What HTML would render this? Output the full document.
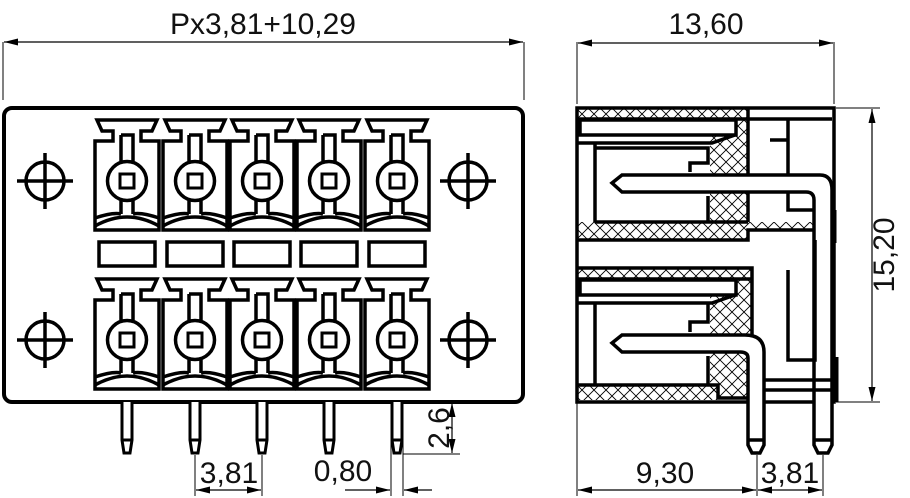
<!DOCTYPE html>
<html><head><meta charset="utf-8"><style>
html,body{margin:0;padding:0;background:#fff;}
svg{display:block;}
text{font-family:"Liberation Sans",Arial,sans-serif;fill:#111;}
</style></head><body>
<svg width="910" height="498" viewBox="0 0 910 498" xmlns="http://www.w3.org/2000/svg">
<defs>
<pattern id="h" width="12" height="12" patternUnits="userSpaceOnUse">
<path d="M0,0L12,12M12,0L0,12" stroke="#000" stroke-width="0.9"/>
</pattern>
<marker id="a" viewBox="0 0 14 7" refX="14" refY="3.5" markerWidth="14" markerHeight="7" orient="auto-start-reverse" markerUnits="userSpaceOnUse">
<path d="M0,0L14,3.5L0,7z" fill="#000"/>
</marker>
<g id="m" fill="none" stroke="#000" stroke-width="3.5">
<path d="M-30,0H30L25,11H14V21H32V110H-32V21H-14V11H-25Z" fill="#fff"/>
<path d="M-6,15H6V42M-6,15V42"/>
<circle cx="0" cy="61" r="19.5"/>
<rect x="-7" y="54" width="14" height="14" stroke-width="3"/>
<path d="M-6,80V94M6,80V94"/>
<path d="M-32,98Q-14,92 -6,94M6,94Q14,92 32,98"/>
<path d="M-32,106Q0,88 32,106"/>
</g>
<g id="hole" fill="none" stroke="#000" stroke-width="3.5">
<circle r="19"/><path d="M-28,0H28M0,-28V28"/>
</g>
<g id="pin" fill="#fff" stroke="#000" stroke-width="3">
<path d="M-5,402V440L-3,453H3L5,440V402"/><path d="M-5,440H5"/>
</g>
</defs>

<!-- LEFT VIEW -->
<path d="M3,42V100M524,42V100" stroke="#000" stroke-width="1"/>
<line x1="4" y1="42" x2="523" y2="42" stroke="#000" stroke-width="1.2" marker-start="url(#a)" marker-end="url(#a)"/>
<text x="263" y="34" font-size="30" text-anchor="middle">Px3,81+10,29</text>
<rect x="4" y="108" width="519" height="294" rx="8" fill="none" stroke="#000" stroke-width="4"/>
<use href="#hole" x="45" y="181"/><use href="#hole" x="468" y="181"/>
<use href="#hole" x="45" y="340"/><use href="#hole" x="468" y="340"/>
<use href="#m" x="127" y="120"/><use href="#m" x="195" y="120"/><use href="#m" x="262" y="120"/><use href="#m" x="329" y="120"/><use href="#m" x="397" y="120"/>
<use href="#m" x="127" y="279"/><use href="#m" x="195" y="279"/><use href="#m" x="262" y="279"/><use href="#m" x="329" y="279"/><use href="#m" x="397" y="279"/>
<g fill="none" stroke="#000" stroke-width="3.5">
<rect x="99" y="242" width="56" height="24"/><rect x="167" y="242" width="56" height="24"/><rect x="234" y="242" width="56" height="24"/><rect x="301" y="242" width="56" height="24"/><rect x="369" y="242" width="56" height="24"/>
</g>
<use href="#pin" x="127"/><use href="#pin" x="195"/><use href="#pin" x="262"/><use href="#pin" x="329"/><use href="#pin" x="397"/>
<!-- dims -->
<path d="M195,455V496M262,455V496M391,440V496M403,440V496M403,454H460M412,402H460" stroke="#000" stroke-width="1"/>
<line x1="196" y1="490" x2="261" y2="490" stroke="#000" stroke-width="1.2" marker-start="url(#a)" marker-end="url(#a)"/>
<text x="229" y="483" font-size="30" text-anchor="middle">3,81</text>
<line x1="345" y1="490" x2="390" y2="490" stroke="#000" stroke-width="1.2" marker-end="url(#a)"/>
<line x1="432" y1="490" x2="404" y2="490" stroke="#000" stroke-width="1.2" marker-end="url(#a)"/>
<text x="343" y="481" font-size="30" text-anchor="middle">0,80</text>
<line x1="452" y1="403" x2="452" y2="453" stroke="#000" stroke-width="1.2" marker-start="url(#a)" marker-end="url(#a)"/>
<text transform="translate(449,428) rotate(-90)" font-size="30" text-anchor="middle">2,6</text>

<!-- RIGHT VIEW -->
<path d="M577,42V104M834,42V104" stroke="#000" stroke-width="1"/>
<line x1="578" y1="43" x2="833" y2="43" stroke="#000" stroke-width="1.2" marker-start="url(#a)" marker-end="url(#a)"/>
<text x="706" y="34" font-size="30" text-anchor="middle">13,60</text>
<path d="M836,108H880M836,402H880" stroke="#000" stroke-width="1"/>
<line x1="872" y1="109" x2="872" y2="401" stroke="#000" stroke-width="1.2" marker-start="url(#a)" marker-end="url(#a)"/>
<text transform="translate(894,255) rotate(-90)" font-size="30" text-anchor="middle">15,20</text>

<g fill="url(#h)" stroke="none">
<rect x="577" y="108" width="171" height="11"/>
<rect x="710" y="119" width="38" height="103"/>
<rect x="577" y="222" width="171" height="18"/>
<rect x="748" y="222" width="66" height="8"/>
<rect x="577" y="268" width="175" height="11"/>
<rect x="710" y="279" width="42" height="120"/>
<rect x="577" y="385" width="140" height="15"/>
</g>
<g fill="none" stroke="#000" stroke-width="3.5">
<path d="M577,108H834V402H577Z"/>
<path d="M577,119H748M748,108V222"/>
<rect x="580" y="120" width="156" height="15" fill="#fff"/>
<path d="M577,143H712L735,135"/>
<path d="M595,143V222M595,148H708V163H690V172M708,196V222M595,222H748"/>
<path d="M577,240H748V230H814"/>
<path d="M748,119H832M788,118V210H815M788,140H770"/>
<path d="M612,183L622,175H820Q832,175 832,190V445L828,453H818L814,445V200Q814,192 806,192H622Z" fill="#fff"/>
<path d="M814,440H832"/>
<path d="M577,268H752V385M577,279H752"/>
<rect x="580" y="280" width="156" height="15" fill="#fff"/>
<path d="M577,303H712L735,295"/>
<path d="M595,303V385M708,303V322H690V332M708,356V385M577,385H718V398H752"/>
<path d="M612,343L622,335H745Q764,335 764,352V445L760,453H752L748,445V358Q748,352 740,352H622Z" fill="#fff"/>
<path d="M748,440H764"/>
<path d="M788,270V360H815V240M764,380H834M764,390H834"/>
</g>
<path d="M834,210V243M836,357V402" stroke="#000" stroke-width="5"/>
<path d="M577,402V496M757,455V496M823,455V496" stroke="#000" stroke-width="1"/>
<line x1="578" y1="490" x2="756" y2="490" stroke="#000" stroke-width="1.2" marker-start="url(#a)" marker-end="url(#a)"/>
<text x="665" y="483" font-size="30" text-anchor="middle">9,30</text>
<line x1="758" y1="490" x2="822" y2="490" stroke="#000" stroke-width="1.2" marker-start="url(#a)" marker-end="url(#a)"/>
<text x="790" y="483" font-size="30" text-anchor="middle">3,81</text>
</svg>
</body></html>
